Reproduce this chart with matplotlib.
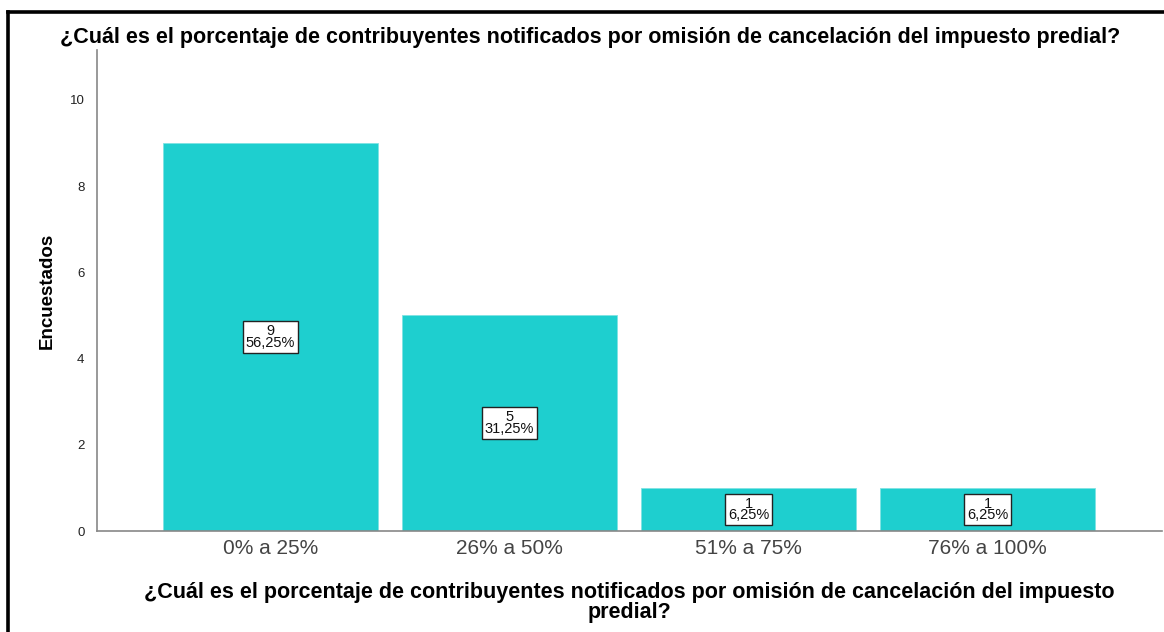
import matplotlib.pyplot as plt
from matplotlib.lines import Line2D

# datos
categorias = ['0% a 25%', '26% a 50%', '51% a 75%', '76% a 100%']
encuestados = [9, 5, 1, 1]
porcentajes = ['56,25%', '31,25%', '6,25%', '6,25%']
yticks = [0, 2, 4, 6, 8, 10]

pregunta = '¿Cuál es el porcentaje de contribuyentes notificados por omisión de cancelación del impuesto predial?'
pregunta_eje = '¿Cuál es el porcentaje de contribuyentes notificados por omisión de cancelación del impuesto\npredial?'

plt.rcParams['font.family'] = ['Liberation Sans', 'DejaVu Sans']

W, H = 1164, 632
fig = plt.figure(figsize=(W / 100, H / 100), dpi=100)
ax = fig.add_axes([97 / W, 1 - 531 / H, (1162 - 97) / W, (531 - 50) / H])

x = list(range(len(categorias)))
ax.bar(x, encuestados, width=0.9, color='#1ecfcf', edgecolor='#7fe3e3', linewidth=0.6, zorder=2)

for xi, n, p in zip(x, encuestados, porcentajes):
    ax.text(xi, n / 2, f'{n}\n{p}', ha='center', va='center', fontsize=10.5,
            linespacing=0.8, color='#111111', zorder=3,
            bbox=dict(boxstyle='square,pad=0.2', facecolor='white', edgecolor='#222222', linewidth=1))

ax.set_xlim(-0.726, 3.73)
ax.set_ylim(0, 11.16)
ax.set_xticks(x)
ax.set_xticklabels(categorias, fontsize=15, color='#444444')
ax.set_yticks(yticks)
ax.set_yticklabels([str(v) for v in yticks], fontsize=9.5, color='#222222')
ax.tick_params(axis='both', length=0, pad=6)
ax.tick_params(axis='y', pad=9)

for s in ['top', 'right']:
    ax.spines[s].set_visible(False)
for s in ['left', 'bottom']:
    ax.spines[s].set_color('#888888')
    ax.spines[s].set_linewidth(1.2)

ax.set_ylabel('Encuestados', fontsize=13.5, fontweight='bold', labelpad=10)
ax.set_xlabel(pregunta_eje, fontsize=15.5, fontweight='bold', labelpad=17, linespacing=0.95)

fig.text(590 / W, 1 - 37 / H, pregunta, ha='center', va='center', fontsize=15.5, fontweight='bold')

# marco negro arriba y a la izquierda
fig.add_artist(Line2D([7.5 / W, 1], [1 - 11.5 / H, 1 - 11.5 / H], color='black', linewidth=2.6,
                      solid_capstyle='projecting', transform=fig.transFigure))
fig.add_artist(Line2D([7.5 / W, 7.5 / W], [0, 1 - 11.5 / H], color='black', linewidth=2.6,
                      solid_capstyle='projecting', transform=fig.transFigure))

fig.savefig('out.png', dpi=100)
